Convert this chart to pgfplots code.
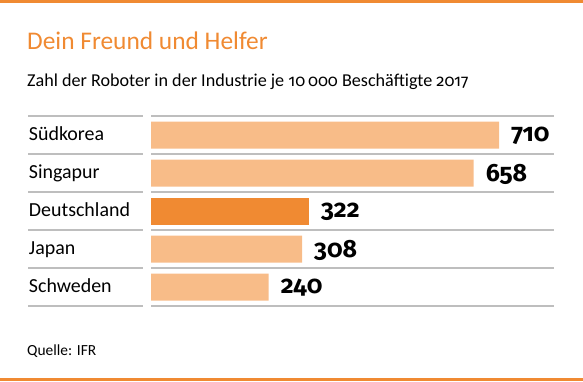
\documentclass[border=0pt]{standalone}
\usepackage{pgfplots}
\pgfplotsset{compat=1.18}
\usepackage{fontspec}
\setmainfont{Carlito}
\newfontfamily\numfont{Fira Sans}[Numbers=OldStyle]
\definecolor{orgdark}{HTML}{F08A32}
\definecolor{orglight}{HTML}{F8BC88}
\definecolor{linegray}{HTML}{BEBEBE}
\begin{document}
\begin{tikzpicture}[x=1bp,y=1bp]
\path[use as bounding box] (0,0) rectangle (583,381);
\fill[orgdark] (0,378) rectangle (583,381);
\fill[orgdark] (0,0) rectangle (583,3);
\node[anchor=base west, inner sep=0, text=orgdark, font=\fontsize{25.5}{29}\selectfont] at (27,332) {Dein Freund und Helfer};
\node[anchor=base west, inner sep=0, font=\fontsize{18.2}{21}\selectfont] at (27,295) {Zahl der Roboter in der Industrie je {\numfont\fontsize{16.5}{20}\selectfont 10\,000} Beschäftigte {\numfont\fontsize{16.5}{20}\selectfont 2017}};
\node[anchor=base west, inner sep=0, font=\fontsize{15.5}{18}\selectfont] at (27,26) {Quelle: IFR};
\foreach \py in {116,154,192,230,268,306} \draw[linegray, line width=1.2bp] (28,381-\py) -- (143,381-\py);
\begin{axis}[
  scale only axis, width=403bp, height=190bp,
  at={(151bp,75bp)}, anchor=south west,
  xbar, bar width=27bp, bar shift=0pt,
  xmin=0, xmax=822, ymin=-0.5, ymax=4.5, y dir=reverse,
  axis line style={draw=none}, tick style={draw=none},
  xtick=\empty, ytick={0,1,2,3,4},
  yticklabels={Südkorea,Singapur,Deutschland,Japan,Schweden},
  yticklabel style={anchor=west, inner sep=0pt, xshift=-118bp, yshift=-3bp, font=\fontsize{20}{24}\selectfont, text height=1.6ex, text depth=0.5ex},
  extra y ticks={-0.5,0.5,1.5,2.5,3.5,4.5},
  extra y tick labels={},
  extra y tick style={grid=major, major grid style={linegray, line width=1.2bp}},
  /pgf/number format/assume math mode=true,
  point meta=x,
  nodes near coords,
  nodes near coords style={anchor=west, inner sep=0pt, xshift=12bp, yshift=-1bp, font=\numfont\fontsize{25}{29}\selectfont\bfseries},
  clip=false,
]
\addplot[fill=orglight, draw=none] coordinates {(710,0) (658,1) (308,3) (240,4)};
\addplot[fill=orgdark, draw=none] coordinates {(322,2)};
\end{axis}
\end{tikzpicture}
\end{document}
